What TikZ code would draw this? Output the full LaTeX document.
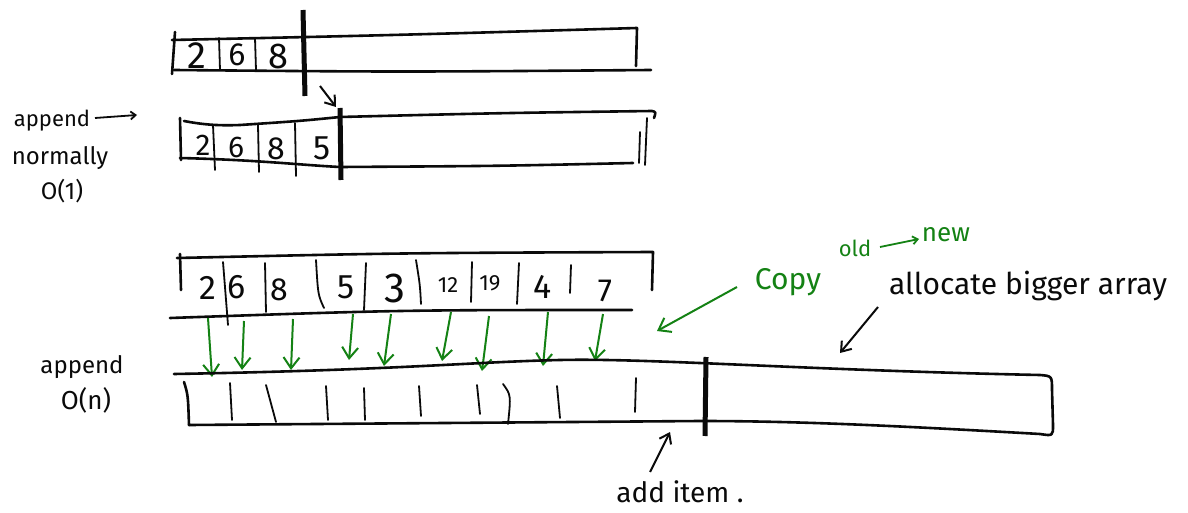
\documentclass[tikz,border=0pt]{standalone}
\usepackage{fontspec}
\setmainfont{Fira Sans}
\usetikzlibrary{arrows.meta}
\definecolor{ink}{RGB}{10,10,10}
\definecolor{pen}{RGB}{20,130,20}
\tikzset{
  wall/.style={draw=ink, line width=2.6pt, line cap=round, line join=round},
  cellsep/.style={draw=ink, line width=1.8pt, line cap=round},
  endbar/.style={draw=ink, line width=5pt},
  num/.style={text=ink, inner sep=0pt, font=\fontsize{#1}{#1}\selectfont},
  num/.default=30,
  lbl/.style={text=ink, inner sep=0pt, font=\fontsize{#1}{#1}\selectfont},
  lbl/.default=24,
  glbl/.style={text=pen, inner sep=0pt, font=\fontsize{#1}{#1}\selectfont},
  blackarrow/.style={draw=ink, line width=2pt, -{Straight Barb[length=9pt,width=13pt]}},
  thinarrow/.style={draw=#1, line width=1.8pt, -{Straight Barb[length=5pt,width=8pt]}},
  copyarrow/.style={draw=pen, line width=2pt, -{Straight Barb[length=11pt,width=16pt]}},
}
\begin{document}
\begin{tikzpicture}[x=1pt,y=-1pt]
\useasboundingbox[fill=white] (0,0) rectangle (1188,513);

% ---------- array 1 ----------
\draw[wall] (175,32) -- (172,74);
\draw[wall] (172,40) .. controls (400,35) .. (637,28) -- (636,66);
\draw[wall] (174,70) .. controls (400,72) .. (651,70);
\draw[cellsep] (219,38) -- (220,70);
\draw[cellsep] (255,38) -- (256,70);
\draw[endbar] (303,10) -- (305,96);
\node[num=38] (a1) at (197,56) {2};
\node[num=32] (a2) at (237,55) {6};
\node[num=36] (a3) at (278,56) {8};
\coordinate (top1) at (320,86);
\coordinate (top2) at (336,107);
\draw[blackarrow] (top1) -- (top2);

% ---------- array 2 ----------
\draw[wall] (180,118) -- (181,160);
\draw[wall] (184,121) .. controls (200,124) and (215,126) .. (240,125) .. controls (300,121) .. (340,117) .. controls (500,113) .. (652,111) .. controls (656,112) .. (654,118);
\draw[wall] (180,158) .. controls (260,160) and (300,165) .. (340,167) .. controls (500,166) .. (633,163);
\draw[cellsep] (647,118) -- (645,165);
\draw[cellsep] (640,132) -- (639,163);
\draw[cellsep] (213,125) -- (215,170);
\draw[cellsep] (258,125) -- (259,172);
\draw[cellsep] (295,123) -- (296,176);
\draw[endbar] (340,108) -- (341,180);
\node[num=30] (b1) at (203,145) {2};
\node[num=30] (b2) at (236,147) {6};
\node[num=32] (b3) at (276,149) {8};
\node[num=34] (b4) at (322,148) {5};

% labels top-left
\node[lbl=22] (app1) at (52,121) {append};
\node[lbl=24] (norm) at (60,158) {normally};
\node[lbl=24] (o1) at (62,191) {O(1)};
\coordinate (n1) at (95,118);
\coordinate (n2) at (137,115);
\draw[thinarrow=ink] (n1) -- (n2);

% ---------- array 3 (old) ----------
\draw[wall] (177,258) .. controls (400,253) .. (653,252) -- (652,290);
\draw[wall] (180,254) -- (181,290);
\draw[wall] (170,318) .. controls (400,310) .. (632,310);
\draw[cellsep] (223,262) -- (228,325);
\draw[cellsep] (265,263) -- (266,312);
\draw[cellsep] (316,260) .. controls (318,295) .. (324,308);
\draw[cellsep] (366,263) -- (364,310);
\draw[cellsep] (416,260) .. controls (420,285) .. (421,304);
\draw[cellsep] (472,262) -- (471,302);
\draw[cellsep] (519,263) -- (517,304);
\draw[cellsep] (571,265) -- (570,293);
\node[num=34] (c1) at (208,288) {2};
\node[num=34] (c2) at (237,287) {6};
\node[num=32] (c3) at (279,290) {8};
\node[num=34] (c4) at (346,287) {5};
\node[num=42] (c5) at (395,288) {3};
\node[num=22] (c6) at (448,285) {12};
\node[num=22] (c7) at (490,283) {19};
\node[num=34] (c8) at (543,287) {4};
\node[num=32] (c9) at (605,291) {7};

% green copy arrows
\foreach \i/\xa/\ya/\xb/\yb in {1/208/318/212/377, 2/244/321/242/370, 3/293/319/291/370, 4/353/314/349/360, 5/391/314/384/366, 6/451/312/442/361, 7/489/316/482/371, 8/548/312/543/366, 9/603/314/595/361}{
  \coordinate (s\i) at (\xa,\ya);
  \coordinate (t\i) at (\xb,\yb);
  \draw[copyarrow] (s\i) -- (t\i);
}

% ---------- array 4 (new) ----------
\draw[wall] (174,374) .. controls (400,370) and (470,362) .. (560,360) .. controls (650,358) and (800,370) .. (1040,375) .. controls (1052,376) .. (1052,390) -- (1053,425) .. controls (1053,436) .. (1040,434) .. controls (900,426) and (800,421) .. (700,421) -- (189,425);
\draw[wall] (184,382) .. controls (188,395) .. (189,425);
\draw[cellsep] (230,383) -- (232,420);
\draw[cellsep] (266,385) -- (276,422);
\draw[cellsep] (326,386) -- (328,420);
\draw[cellsep] (364,388) -- (365,420);
\draw[cellsep] (419,386) -- (421,416);
\draw[cellsep] (477,385) -- (480,414);
\draw[cellsep] (503,384) .. controls (511,395) .. (508,424);
\draw[cellsep] (557,386) -- (560,418);
\draw[cellsep] (636,378) -- (635,412);
\draw[endbar] (706,357) -- (705,436);
\node[lbl=24] (app2) at (82,367) {append};
\node[lbl=26] (on) at (86,400) {O(n)};

% add item
\node[lbl=28] (add) at (680,492) {add item .};
\coordinate (ai1) at (650,472);
\coordinate (ai2) at (670,432);
\draw[blackarrow] (ai1) -- (ai2);

% copy old -> new
\node[glbl=30] (copy) at (788,282) {Copy};
\node[glbl=22] (old) at (855,248) {old};
\node[glbl=26] (new) at (946,235) {new};
\coordinate (on1) at (880,247);
\coordinate (on2) at (919,239);
\draw[thinarrow=pen] (on1) -- (on2);
\coordinate (cp1) at (737,287);
\coordinate (cp2) at (657,331);
\draw[copyarrow] (cp1) -- (cp2);

% allocate bigger array
\node[lbl=30] (alloc) at (1028,286) {allocate bigger array};
\coordinate (al1) at (878,307);
\coordinate (al2) at (840,353);
\draw[blackarrow] (al1) -- (al2);
\end{tikzpicture}
\end{document}
